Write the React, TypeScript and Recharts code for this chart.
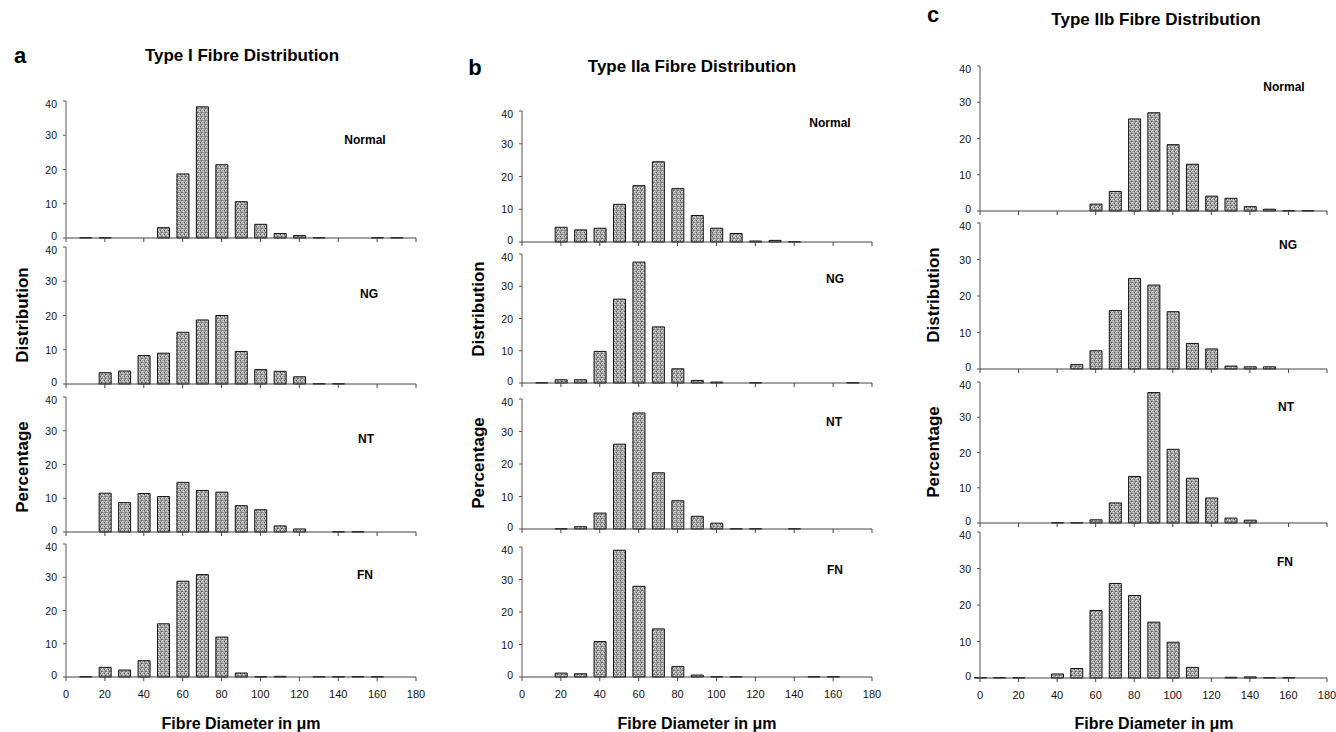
import React from 'react';
import { BarChart, Bar, XAxis, YAxis } from 'recharts';

// fibre diameter bins (µm), one bar per bin
const BINS = [0, 10, 20, 30, 40, 50, 60, 70, 80, 90, 100, 110, 120, 130, 140, 150, 160, 170];
const X_TICKS = [0, 20, 40, 60, 80, 100, 120, 140, 160, 180];
const Y_TICKS = [0, 10, 20, 30, 40];

// Type I
const typeINormal = [0, 0.1, 0.1, 0, 0, 3, 18.7, 38.3, 21.4, 10.6, 4, 1.3, 0.7, 0.1, 0, 0, 0.1, 0.1];
const typeING = [0, 0, 3.3, 3.8, 8.3, 9, 15.1, 18.7, 20, 9.5, 4.2, 3.7, 2.1, 0.1, 0.1, 0, 0, 0];
const typeINT = [0, 0, 11.5, 8.7, 11.4, 10.5, 14.7, 12.3, 11.8, 7.8, 6.6, 1.8, 0.9, 0, 0.1, 0.1, 0, 0];
const typeIFN = [0, 0.1, 2.9, 2.1, 4.9, 16, 28.8, 30.8, 12, 1.2, 0.1, 0.2, 0, 0.1, 0.1, 0.1, 0.1, 0];

// Type IIa
const typeIIaNormal = [0, 0, 4.5, 3.7, 4.2, 11.5, 17.2, 24.5, 16.3, 8.1, 4.2, 2.6, 0.3, 0.5, 0.1, 0, 0, 0];
const typeIIaNG = [0, 0.1, 1, 1, 9.8, 26, 37.5, 17.4, 4.4, 0.8, 0.3, 0, 0.1, 0, 0, 0, 0, 0.1];
const typeIIaNT = [0, 0, 0.1, 0.7, 4.9, 26.1, 35.7, 17.3, 8.7, 3.9, 1.8, 0.1, 0.1, 0, 0.1, 0, 0, 0];
const typeIIaFN = [0, 0, 1.2, 1, 10.9, 39, 27.9, 14.8, 3.2, 0.6, 0.1, 0.1, 0, 0, 0, 0.1, 0.1, 0];

// Type IIb
const typeIIbNormal = [0, 0, 0, 0, 0, 0, 1.9, 5.4, 25.4, 27.1, 18.3, 12.9, 4.1, 3.5, 1.2, 0.5, 0.1, 0.1];
const typeIIbNG = [0, 0, 0, 0, 0, 1.2, 5, 16, 24.8, 23, 15.7, 7, 5.5, 0.8, 0.6, 0.6, 0, 0];
const typeIIbNT = [0, 0, 0, 0, 0.1, 0.1, 0.9, 5.7, 13.2, 37, 20.9, 12.7, 7.1, 1.4, 0.8, 0, 0, 0];
const typeIIbFN = [0.1, 0.1, 0.1, 0, 1.1, 2.6, 18.5, 25.9, 22.6, 15.3, 9.8, 2.9, 0, 0.2, 0.3, 0.1, 0.1, 0];

const FONT = '"Liberation Sans", Arial, Helvetica, sans-serif';

const toRows = (vals: number[]) => BINS.map((d, i) => ({ d, v: vals[i] }));

type SubProps = {
  id: string;
  values: number[];
  left: number;
  top: number;
  bottom: number;
  plotW: number;
  showX: boolean;
};

const ML = 40;
const MT = 8;
const MR = 16;

// y tick label; 0 nudged up and 40 nudged down so stacked panels don't collide
const YTick = (props: any) => {
  const { x, y, payload } = props;
  const v = payload.value;
  const shift = v === 0 ? -2.5 : v === 40 ? 2.5 : 0;
  return (
    <text x={x} y={y + shift} textAnchor="end" dominantBaseline="central" fontSize={10.5} fill="#111" fontFamily={FONT}>
      {v}
    </text>
  );
};

function Sub({ id, values, left, top, bottom, plotW, showX }: SubProps) {
  const plotH = bottom - top;
  const xh = showX ? 30 : 6;
  return (
    <div style={{ position: 'absolute', left: left - ML, top: top - MT }}>
      <BarChart
        width={ML + plotW + MR}
        height={MT + plotH + xh}
        data={toRows(values)}
        margin={{ top: MT, right: MR, bottom: 0, left: 0 }}
      >
        <defs>
          <pattern id={id} width={4} height={4} patternUnits="userSpaceOnUse">
            <rect width={4} height={4} fill="#a4a4a4" />
            <rect x={0} y={0} width={1} height={1} fill="#f0f0f0" />
            <rect x={2} y={1} width={1} height={1} fill="#555" />
            <rect x={1} y={2} width={1} height={1} fill="#e2e2e2" />
            <rect x={3} y={3} width={1} height={1} fill="#606060" />
            <rect x={3} y={1} width={1} height={1} fill="#d4d4d4" />
            <rect x={0} y={3} width={1} height={1} fill="#7a7a7a" />
          </pattern>
        </defs>
        <XAxis
          type="number"
          dataKey="d"
          domain={[0, 180]}
          ticks={X_TICKS}
          interval={0}
          height={xh}
          tickSize={4}
          tickMargin={9}
          tickFormatter={(v) => (showX ? String(v) : '')}
          tick={{ fontSize: 11, fill: '#111', fontFamily: FONT }}
          axisLine={{ stroke: '#444' }}
          tickLine={{ stroke: '#444' }}
        />
        <YAxis
          type="number"
          domain={[0, 40]}
          ticks={Y_TICKS}
          interval={0}
          width={ML}
          tickSize={3}
          tickMargin={6}
          tick={YTick}
          axisLine={{ stroke: '#555' }}
          tickLine={{ stroke: '#555' }}
        />
        <Bar dataKey="v" barSize={12} fill={`url(#${id})`} stroke="#111" strokeWidth={1} isAnimationActive={false} />
      </BarChart>
    </div>
  );
}

type PanelDef = {
  key: string;
  left: number;
  plotW: number;
  rows: [number, number][];
  series: number[][];
};

const PANELS: PanelDef[] = [
  { key: 'a', left: 66, plotW: 350, rows: [[101, 238], [247, 384], [397, 532], [544, 677]], series: [typeINormal, typeING, typeINT, typeIFN] },
  { key: 'b', left: 522, plotW: 350, rows: [[111, 242], [254, 383], [399, 529], [547, 677]], series: [typeIIaNormal, typeIIaNG, typeIIaNT, typeIIaFN] },
  { key: 'c', left: 980, plotW: 347, rows: [[66, 211], [223, 369], [382, 523], [532, 678]], series: [typeIIbNormal, typeIIbNG, typeIIbNT, typeIIbFN] },
];

const GROUPS = ['Normal', 'NG', 'NT', 'FN'];

// label positions (centre points)
const GROUP_POS: Record<string, [number, number][]> = {
  a: [[365, 140], [369, 294], [366, 439], [365, 575]],
  b: [[830, 123], [835, 279], [834, 422], [835, 570]],
  c: [[1284, 87], [1288, 245], [1286, 407], [1285, 562]],
};

const TITLES = [
  { letter: 'a', lx: 20, ly: 63, text: 'Type I Fibre Distribution', tx: 242, ty: 61 },
  { letter: 'b', lx: 475, ly: 75, text: 'Type IIa Fibre Distribution', tx: 692, ty: 72 },
  { letter: 'c', lx: 933, ly: 22, text: 'Type IIb Fibre Distribution', tx: 1156, ty: 25 },
];

const YLABELS = [
  { x: 22, d: 315, p: 467 },
  { x: 478, d: 309, p: 463 },
  { x: 933, d: 295, p: 452 },
];

const XLABEL_X = [241, 697, 1154];

export default function App() {
  return (
    <div style={{ position: 'absolute', left: 0, top: 0, width: 1336, height: 732, background: '#fff', fontFamily: FONT }}>
      {PANELS.map((p) =>
        p.rows.map(([t, b], i) => (
          <Sub
            key={`${p.key}${i}`}
            id={`stip-${p.key}${i}`}
            values={p.series[i]}
            left={p.left}
            top={t}
            bottom={b}
            plotW={p.plotW}
            showX={i === 3}
          />
        ))
      )}
      <svg width={1336} height={732} style={{ position: 'absolute', left: 0, top: 0, pointerEvents: 'none' }}>
        <g fontFamily={FONT} fontWeight="bold" fill="#000">
          {TITLES.map((t) => (
            <g key={t.letter}>
              <text x={t.lx} y={t.ly} fontSize={22} textAnchor="middle">{t.letter}</text>
              <text x={t.tx} y={t.ty} fontSize={17} textAnchor="middle">{t.text}</text>
            </g>
          ))}
          {PANELS.map((p) =>
            GROUP_POS[p.key].map(([x, y], i) => (
              <text key={`${p.key}-g${i}`} x={x} y={y} fontSize={12} textAnchor="middle" dominantBaseline="central">
                {GROUPS[i]}
              </text>
            ))
          )}
          {YLABELS.map((l, i) => (
            <g key={`yl${i}`}>
              <text x={l.x} y={l.d} fontSize={17} textAnchor="middle" dominantBaseline="central" transform={`rotate(-90 ${l.x} ${l.d})`}>
                Distribution
              </text>
              <text x={l.x} y={l.p} fontSize={17} textAnchor="middle" dominantBaseline="central" transform={`rotate(-90 ${l.x} ${l.p})`}>
                Percentage
              </text>
            </g>
          ))}
          {XLABEL_X.map((x, i) => (
            <text key={`xl${i}`} x={x} y={723} fontSize={16} textAnchor="middle" dominantBaseline="central">
              Fibre Diameter in μm
            </text>
          ))}
        </g>
      </svg>
    </div>
  );
}
